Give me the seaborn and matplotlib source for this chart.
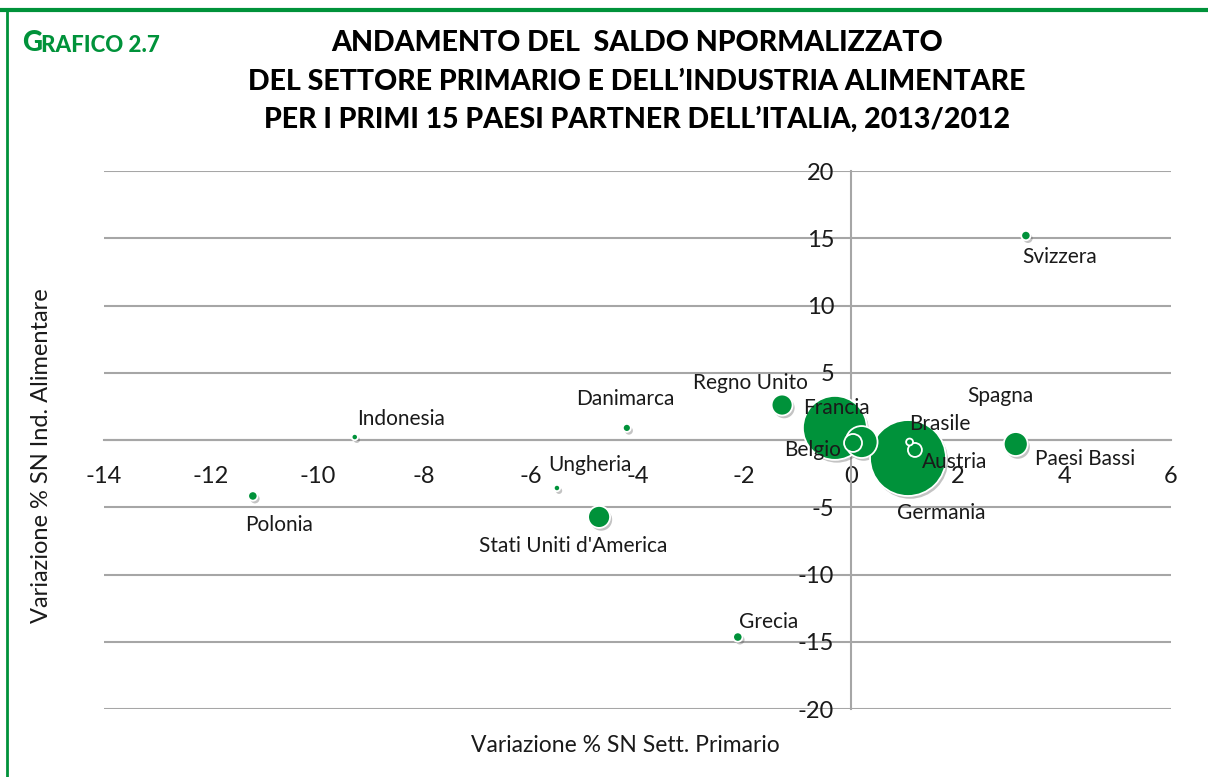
import matplotlib
matplotlib.use("Agg")
import matplotlib.pyplot as plt
import matplotlib.patheffects as pe
import pandas as pd
import seaborn as sns

# -----------------------------
# DATA
# -----------------------------
paesi = ["Germania", "Francia", "Spagna", "Paesi Bassi", "Stati Uniti d'America",
         "Regno Unito", "Belgio", "Austria", "Svizzera", "Polonia", "Grecia",
         "Danimarca", "Brasile", "Indonesia", "Ungheria"]
sett_primario = [1.07, -0.30, 0.20, 3.09, -4.72, -1.29, 0.04, 1.20, 3.28, -11.21,
                 -2.12, -4.20, 1.10, -9.30, -5.51]
ind_alimentare = [-1.34, 0.90, -0.15, -0.30, -5.72, 2.60, -0.22, -0.74, 15.20, -4.16,
                  -14.65, 0.90, -0.15, 0.22, -3.57]
peso = [1444, 1024, 256, 144, 121, 110, 81, 49, 22, 22, 22, 16, 12, 10, 10]

# label offsets in pixels (dx, dy)
offsets = {
    "Svizzera": (34, -21), "Indonesia": (46, 18), "Polonia": (26, -29),
    "Danimarca": (-2, 29), "Ungheria": (33, 23), "Stati Uniti d'America": (-26, -29),
    "Grecia": (31, 15), "Regno Unito": (-32, 22), "Francia": (2, 20),
    "Belgio": (-40, -7), "Spagna": (139, 46), "Brasile": (30, 18),
    "Austria": (40, -12), "Germania": (33, -55), "Paesi Bassi": (69, -15),
}

df = pd.DataFrame({"Paese": paesi, "x": sett_primario, "y": ind_alimentare, "peso": peso})

GREEN = "#00923a"
GRID = "#a6a6a6"
TXT = "#1a1a1a"

# -----------------------------
# PLOT
# -----------------------------
sns.set_style("white")
plt.rcParams["font.family"] = ["Lato", "DejaVu Sans"]
plt.rcParams["axes.unicode_minus"] = False

fig = plt.figure(figsize=(12.08, 7.77), dpi=100)
ax = fig.add_axes([104 / 1208, 1 - 709 / 777, 1067 / 1208, 538 / 777])

k = 2.07  # px radius^2 -> points^2
sns.scatterplot(data=df, x="x", y="y", size="peso",
                sizes=(k * min(peso), k * max(peso)),
                size_norm=(min(peso), max(peso)),
                color=GREEN, edgecolor="white", linewidth=1.3,
                legend=False, ax=ax, zorder=3)
for coll in ax.collections:
    coll.set_path_effects([pe.SimplePatchShadow(offset=(1.5, -2), shadow_rgbFace="#555555", alpha=0.35),
                           pe.Normal()])

for _, r in df.iterrows():
    dx, dy = offsets[r["Paese"]]
    ax.annotate(r["Paese"], (r["x"], r["y"]), xytext=(dx, dy), textcoords="offset pixels",
                ha="center", va="center", fontsize=15, color=TXT, zorder=4)

ax.set_xlim(-14, 6)
ax.set_ylim(-20, 20)
ax.set_xticks(range(-14, 7, 2))
ax.set_yticks(range(-20, 21, 5))
ax.yaxis.grid(True, color=GRID, linewidth=1.5)
ax.xaxis.grid(False)
ax.set_axisbelow(True)

for s in ["top", "right"]:
    ax.spines[s].set_visible(False)
ax.spines["left"].set_position(("data", 0))
ax.spines["bottom"].set_position(("data", 0))
for s in ["left", "bottom"]:
    ax.spines[s].set_color(GRID)
    ax.spines[s].set_linewidth(1.5)
    ax.spines[s].set_zorder(1)

ax.tick_params(axis="x", direction="out", length=5, width=1.5, color=GRID, pad=14,
               labelsize=17, labelcolor=TXT)
ax.tick_params(axis="y", length=0, pad=12, labelsize=17, labelcolor=TXT)

ax.set_xlabel("")
ax.set_ylabel("")
fig.text(625 / 1208, 1 - 745 / 777, "Variazione % SN Sett. Primario", ha="center", va="center",
         fontsize=16.5, color=TXT)
fig.text(42 / 1208, 1 - 456 / 777, "Variazione % SN Ind. Alimentare", ha="center", va="center",
         rotation=90, fontsize=17, color=TXT)

# -----------------------------
# TITLE AND FRAME
# -----------------------------
title = ["ANDAMENTO DEL  SALDO NPORMALIZZATO",
         "DEL SETTORE PRIMARIO E DELL\u2019INDUSTRIA ALIMENTARE",
         "PER I PRIMI 15 PAESI PARTNER DELL\u2019ITALIA, 2013/2012"]
for i, line in enumerate(title):
    fig.text(637 / 1208, 1 - (43 + 38.5 * i) / 777, line, ha="center", va="center",
             fontsize=20.5, fontweight="black", color="black")
fig.text(22 / 1208, 1 - 43 / 777, "G", ha="left", va="center", fontsize=20,
         fontweight="black", color=GREEN)
fig.text(41 / 1208, 1 - 45 / 777, "RAFICO 2.7", ha="left", va="center", fontsize=16,
         fontweight="black", color=GREEN)

fig.add_artist(plt.Line2D([0, 1], [1 - 10 / 777] * 2, color=GREEN, linewidth=3,
                          transform=fig.transFigure))
fig.add_artist(plt.Line2D([7 / 1208] * 2, [0, 1 - 10 / 777], color=GREEN, linewidth=2,
                          transform=fig.transFigure))

fig.savefig("out.png", dpi=100)
